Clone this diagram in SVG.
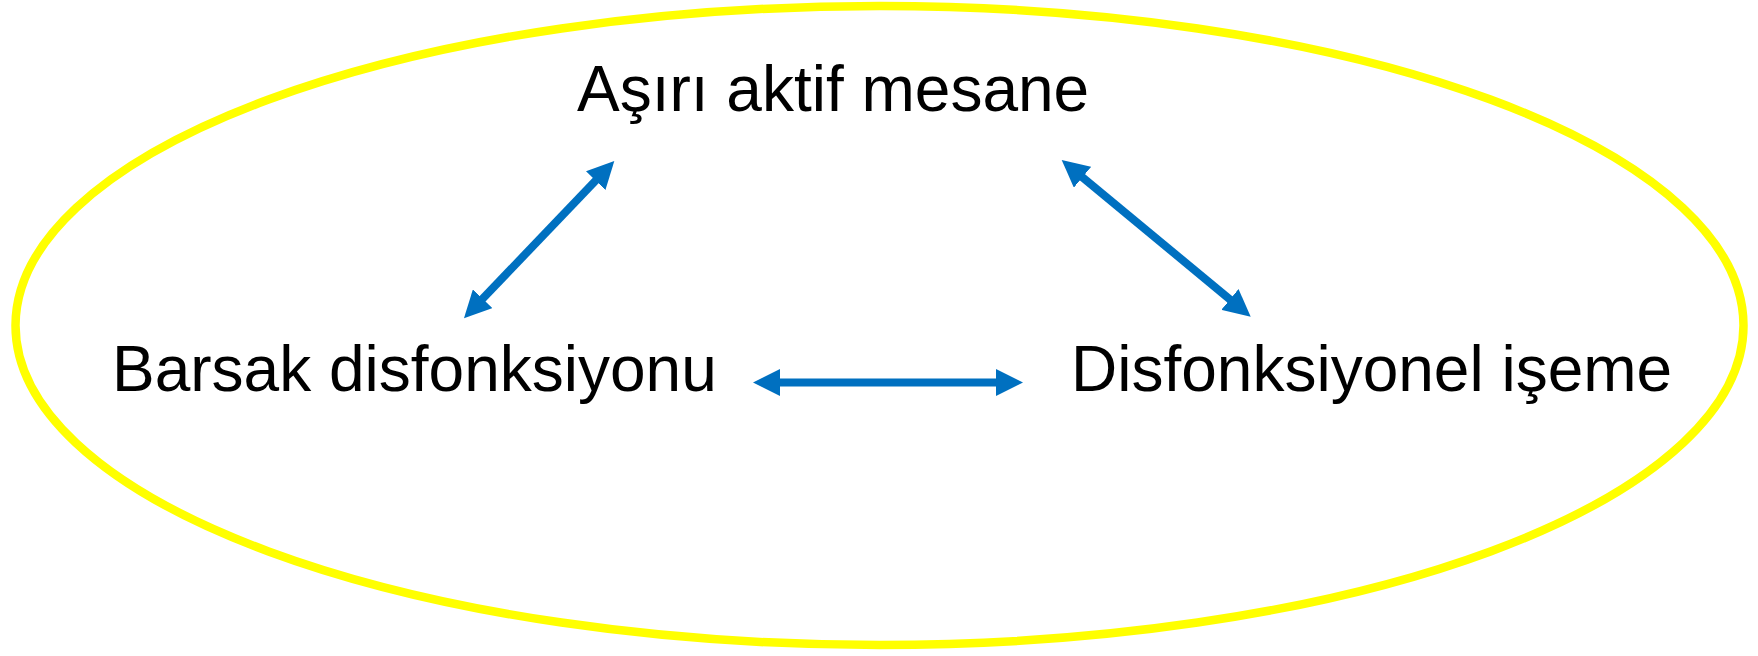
<svg xmlns="http://www.w3.org/2000/svg" width="1758" height="656" viewBox="0 0 1758 656">
<style>
.lbl{font-family:"Liberation Sans",Arial,sans-serif;font-size:64px;fill:#000}
.arr{stroke:#0070C0;stroke-width:8;fill:none;marker-start:url(#ah);marker-end:url(#ah)}
</style>
<defs>
<marker id="ah" markerUnits="userSpaceOnUse" markerWidth="27" markerHeight="27" refX="7" refY="13.5" orient="auto-start-reverse">
<path d="M0,0 L27,13.5 L0,27 z" fill="#0070C0"/>
</marker>
</defs>
<rect width="1758" height="656" fill="#fff"/>
<ellipse cx="879.5" cy="325.5" rx="864" ry="319.5" fill="none" stroke="#FFFF00" stroke-width="8.5"/>
<g id="connectors">
<line class="arr" x1="773" y1="382.5" x2="1003" y2="382.5"/>
<line class="arr" x1="477.8" y1="303.8" x2="600.5" y2="175.5"/>
<line class="arr" x1="1077.1" y1="172.8" x2="1235.3" y2="303.9"/>
</g>
<g id="node-top"><text class="lbl" x="577" y="111">Aşırı aktif mesane</text></g>
<g id="node-left"><text class="lbl" x="112" y="391">Barsak disfonksiyonu</text></g>
<g id="node-right"><text class="lbl" x="1071" y="391">Disfonksiyonel işeme</text></g>
</svg>
